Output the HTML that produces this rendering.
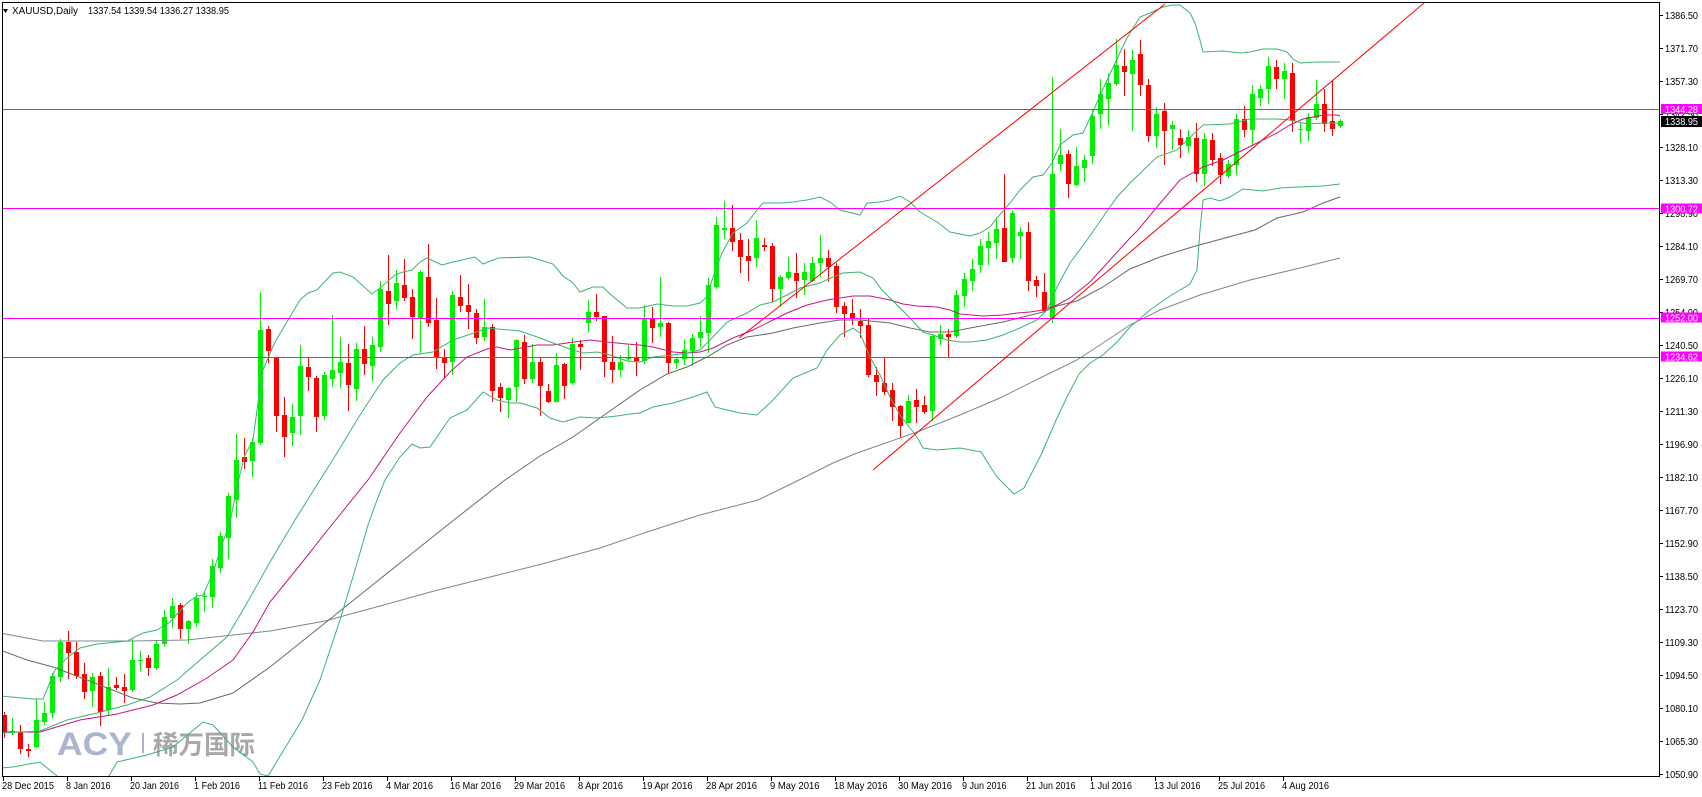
<!DOCTYPE html>
<html><head><meta charset="utf-8"><title>XAUUSD Daily</title>
<style>html,body{margin:0;padding:0;background:#fff;}svg{display:block}</style></head>
<body>
<svg width="1702" height="797" viewBox="0 0 1702 797" xmlns="http://www.w3.org/2000/svg" font-family="'Liberation Sans', sans-serif">
<rect width="1702" height="797" fill="#fff"/>
<defs><clipPath id="c"><rect x="3" y="3" width="1656" height="773"/></clipPath></defs>
<g clip-path="url(#c)">
<!-- watermark -->
<text x="57" y="755" font-family="'Liberation Sans', sans-serif" font-weight="bold" font-size="32" fill="#a9b6ce" textLength="75" lengthAdjust="spacingAndGlyphs">ACY</text>
<rect x="142" y="733" width="2" height="20" fill="#aab3c6"/>
<text x="153" y="754" font-family="'Liberation Sans', 'Noto Sans CJK SC', sans-serif" font-weight="bold" font-size="26" fill="#a8a8a8" textLength="102" lengthAdjust="spacingAndGlyphs">稀万国际</text>

<!-- candles -->
<g shape-rendering="crispEdges">
<path fill="none" stroke="#00ee00" stroke-width="1" d="M12.5 718V735M36.5 699V748M44.5 702V725M52.5 673V718M60.5 639V682M92.5 673V707M108.5 668V715M132.5 639V692M140.5 651V671M156.5 640V670M164.5 610V647M172.5 598V628M188.5 620V644M196.5 593V627M204.5 591V612M212.5 559V608M220.5 532V573M228.5 493V559M236.5 434V518M252.5 438V477M260.5 292V445M292.5 404V446M300.5 345V435M324.5 372V420M332.5 315V387M340.5 337V388M356.5 343V401M372.5 337V381M380.5 281V352M396.5 270V309M420.5 270V353M452.5 291V375M484.5 299V341M508.5 387V418M516.5 339V402M532.5 344V383M556.5 353V402M572.5 338V385M588.5 300V332M620.5 355V377M628.5 345V362M644.5 305V364M660.5 277V337M676.5 357V369M684.5 340V365M692.5 334V366M700.5 316V347M708.5 278V353M716.5 217V289M724.5 201V239M756.5 220V267M780.5 275V307M788.5 257V280M804.5 263V295M812.5 257V282M820.5 235V277M908.5 395V423M932.5 334V421M940.5 325V345M956.5 290V338M964.5 273V307M972.5 259V291M980.5 239V273M988.5 232V265M996.5 217V259M1012.5 210V263M1020.5 227V259M1052.5 77V323M1060.5 129V171M1076.5 147V186M1084.5 155V182M1092.5 110V164M1100.5 79V129M1108.5 73V125M1116.5 39V86M1132.5 50V131M1156.5 107V148M1172.5 121V150M1188.5 130V153M1204.5 133V186M1228.5 160V178M1236.5 114V175M1252.5 85V146M1260.5 85V106M1268.5 57V104M1284.5 63V99M1300.5 123V143M1308.5 113V141M1316.5 80V120M1340.5 119V128"/>
<path fill="none" stroke="#ff0000" stroke-width="1" d="M4.5 712V738M20.5 725V754M28.5 744V757M68.5 631V679M76.5 642V679M84.5 663V699M100.5 672V726M116.5 677V690M124.5 674V703M148.5 655V676M180.5 603V639M244.5 438V469M268.5 326V363M276.5 357V432M284.5 397V457M308.5 357V391M316.5 376V432M348.5 344V411M364.5 326V375M388.5 255V325M404.5 259V301M412.5 289V339M428.5 244V327M436.5 298V369M444.5 349V378M460.5 275V312M468.5 284V329M476.5 309V344M492.5 324V402M500.5 383V412M524.5 335V384M540.5 357V416M548.5 384V403M564.5 363V399M580.5 340V370M596.5 294V321M604.5 316V377M612.5 336V383M636.5 342V376M652.5 307V343M668.5 322V374M732.5 205V251M740.5 233V273M748.5 239V281M764.5 238V251M772.5 243V302M796.5 253V298M828.5 250V282M836.5 263V313M844.5 302V337M852.5 299V325M860.5 309V338M868.5 318V377M876.5 367V396M884.5 358V395M892.5 383V421M900.5 405V438M916.5 389V423M924.5 396V414M948.5 329V357M1004.5 174V262M1028.5 222V291M1036.5 276V297M1044.5 273V313M1068.5 150V198M1124.5 49V96M1140.5 40V96M1148.5 79V142M1164.5 103V165M1180.5 129V158M1196.5 123V182M1212.5 133V166M1220.5 153V184M1244.5 106V137M1276.5 60V89M1292.5 63V132M1324.5 89V132M1332.5 81V136"/>
<path fill="#00ee00" d="M10 731h5V732h-5zM34 720h5V747h-5zM42 713h5V722h-5zM50 676h5V713h-5zM58 642h5V677h-5zM90 677h5V691h-5zM106 687h5V710h-5zM130 660h5V690h-5zM138 660h5V661h-5zM154 644h5V668h-5zM162 617h5V644h-5zM170 606h5V618h-5zM186 621h5V629h-5zM194 598h5V623h-5zM202 596h5V597h-5zM210 566h5V597h-5zM218 536h5V568h-5zM226 496h5V538h-5zM234 460h5V500h-5zM250 442h5V461h-5zM258 330h5V443h-5zM290 417h5V433h-5zM298 366h5V416h-5zM322 375h5V416h-5zM330 370h5V379h-5zM338 362h5V373h-5zM354 349h5V389h-5zM370 345h5V366h-5zM378 289h5V347h-5zM394 283h5V301h-5zM418 272h5V318h-5zM450 295h5V362h-5zM482 327h5V337h-5zM506 388h5V400h-5zM514 340h5V387h-5zM530 362h5V379h-5zM554 365h5V402h-5zM570 344h5V383h-5zM586 312h5V323h-5zM618 362h5V370h-5zM626 357h5V359h-5zM642 318h5V361h-5zM658 323h5V327h-5zM674 359h5V363h-5zM682 350h5V359h-5zM690 338h5V351h-5zM698 332h5V338h-5zM706 285h5V333h-5zM714 225h5V287h-5zM722 228h5V230h-5zM754 238h5V258h-5zM778 277h5V289h-5zM786 272h5V278h-5zM802 272h5V280h-5zM810 263h5V281h-5zM818 258h5V263h-5zM906 401h5V423h-5zM930 336h5V411h-5zM938 334h5V339h-5zM954 295h5V336h-5zM962 279h5V296h-5zM970 269h5V281h-5zM978 246h5V265h-5zM986 241h5V248h-5zM994 229h5V243h-5zM1010 213h5V258h-5zM1018 232h5V236h-5zM1050 174h5V319h-5zM1058 155h5V164h-5zM1074 166h5V185h-5zM1082 160h5V168h-5zM1090 116h5V156h-5zM1098 94h5V114h-5zM1106 83h5V99h-5zM1114 65h5V84h-5zM1130 60h5V74h-5zM1154 114h5V136h-5zM1170 125h5V129h-5zM1186 137h5V146h-5zM1202 139h5V174h-5zM1226 164h5V176h-5zM1234 119h5V165h-5zM1250 94h5V130h-5zM1258 89h5V98h-5zM1266 66h5V89h-5zM1282 71h5V79h-5zM1298 129h5V130h-5zM1306 117h5V131h-5zM1314 104h5V118h-5zM1338 121h5V126h-5z"/>
<path fill="#ff0000" d="M2 715h5V733h-5zM18 732h5V749h-5zM26 749h5V751h-5zM66 642h5V653h-5zM74 652h5V676h-5zM82 674h5V692h-5zM98 676h5V712h-5zM114 685h5V688h-5zM122 687h5V691h-5zM146 658h5V668h-5zM178 605h5V629h-5zM242 457h5V462h-5zM266 329h5V351h-5zM274 358h5V416h-5zM282 415h5V437h-5zM306 367h5V377h-5zM314 378h5V417h-5zM346 363h5V385h-5zM362 349h5V364h-5zM386 291h5V304h-5zM402 285h5V298h-5zM410 297h5V317h-5zM426 277h5V323h-5zM434 320h5V357h-5zM442 357h5V363h-5zM458 297h5V306h-5zM466 305h5V312h-5zM474 313h5V338h-5zM490 327h5V391h-5zM498 387h5V398h-5zM522 342h5V379h-5zM538 362h5V386h-5zM546 391h5V402h-5zM562 364h5V386h-5zM578 344h5V347h-5zM594 312h5V317h-5zM602 316h5V362h-5zM610 362h5V370h-5zM634 358h5V361h-5zM650 318h5V328h-5zM666 323h5V363h-5zM730 228h5V242h-5zM738 240h5V257h-5zM746 256h5V261h-5zM762 245h5V247h-5zM770 246h5V289h-5zM794 273h5V281h-5zM826 258h5V267h-5zM834 266h5V307h-5zM842 306h5V314h-5zM850 313h5V319h-5zM858 321h5V326h-5zM866 325h5V375h-5zM874 375h5V382h-5zM882 383h5V392h-5zM890 390h5V407h-5zM898 406h5V426h-5zM914 400h5V407h-5zM922 405h5V412h-5zM946 334h5V337h-5zM1002 228h5V262h-5zM1026 232h5V281h-5zM1034 280h5V286h-5zM1042 292h5V311h-5zM1066 154h5V184h-5zM1122 66h5V72h-5zM1138 54h5V85h-5zM1146 85h5V136h-5zM1162 111h5V131h-5zM1178 138h5V145h-5zM1194 138h5V174h-5zM1210 140h5V160h-5zM1218 158h5V175h-5zM1242 119h5V130h-5zM1274 67h5V79h-5zM1290 73h5V121h-5zM1322 104h5V124h-5zM1330 121h5V129h-5z"/>
</g>

<!-- indicators -->
<g fill="none" stroke-width="1">
<polyline stroke="#778899" points="0,633 43,641 133,641 187,640 270,631 325,621 380,606 434,591 490,577 542,564 600,548 650,531 700,515 758,500 793,483 833,463 857,453 883,444 917,432 960,415 1000,398 1040,378 1077,360 1103,343 1130,325 1160,310 1200,295 1250,280 1300,268 1340,258"/>
<polyline stroke="#696969" points="0,650 27,660 53,667 87,680 133,698 157,703 180,704 200,703 233,693 270,667 300,643 350,603 400,563 450,523 505,480 540,456 573,437 607,413 640,390 667,374 687,367 707,357 727,345 747,337 773,333 793,328 820,323 840,320 860,320 870,321 890,323 910,328 930,332 950,332 970,328 1003,322 1023,317 1043,312 1057,306 1077,301 1103,287 1130,269 1160,257 1192,247 1225,238 1255,230 1277,218 1303,212 1323,203 1340,197"/>
<polyline stroke="#c71585" points="0,732 40,732 80,720 117,714 153,705 177,695 207,678 233,660 253,632 270,602 300,565 330,527 368,480 400,433 427,397 450,372 467,357 487,349 497,347 510,350 537,345 553,345 567,343 590,340 607,342 627,344 640,345 653,347 673,352 687,353 700,352 713,348 733,338 753,330 773,320 787,313 807,305 827,300 840,298 853,296 870,296 890,300 903,304 917,306 937,307 950,310 960,314 983,316 1003,315 1017,313 1030,312 1043,310 1057,305 1070,298 1090,282 1110,260 1130,238 1138,230 1157,207 1180,180 1203,167 1223,160 1243,150 1257,143 1277,133 1290,125 1303,119 1323,115 1337,115 1340,116"/>
<polyline stroke="#3cb371" points="0,696 33,699 43,699 55,670 67,658 80,648 97,644 127,641 143,633 157,630 170,622 187,603 197,596 203,595 213,573 220,550 230,522 238,482 245,455 253,440 262,372 275,342 300,300 308,293 317,290 333,273 340,272 353,277 372,294 380,288 395,275 403,272 412,270 420,262 427,258 442,265 453,262 475,257 483,264 498,258 530,257 540,260 553,264 563,276 573,283 580,292 593,287 603,287 610,294 627,308 640,308 657,304 673,306 687,306 700,303 707,297 713,277 722,253 733,233 747,223 757,210 763,203 780,203 793,202 807,200 820,197 830,202 840,210 860,215 867,203 880,202 890,200 900,196 910,202 920,212 937,222 950,232 970,236 980,233 990,227 997,218 1010,203 1020,190 1033,177 1043,175 1052,163 1060,145 1073,135 1083,133 1092,114 1103,89 1117,59 1127,38 1140,17 1150,13 1163,7 1172,5 1180,5 1190,13 1195,23 1200,40 1203,52 1223,51 1240,53 1250,52 1263,49 1277,49 1287,52 1293,59 1300,63 1317,62 1340,62"/>
<polyline stroke="#3cb371" points="0,733 40,731 67,720 97,713 127,705 150,697 177,680 200,660 227,637 247,603 270,562 295,520 320,480 337,453 360,415 383,380 400,363 413,355 433,352 453,340 477,332 487,328 520,331 540,338 553,343 570,349 583,353 597,352 610,355 627,361 640,362 653,357 673,355 687,353 700,350 713,337 727,322 747,313 760,305 773,302 787,295 800,288 820,283 833,277 843,273 860,272 873,278 882,290 910,318 923,332 933,335 947,340 960,342 970,342 987,340 1003,335 1020,328 1037,320 1047,310 1057,287 1070,263 1087,240 1103,217 1117,197 1130,183 1157,157 1177,150 1203,125 1230,124 1250,119 1277,119 1290,120 1307,124 1323,123 1340,123"/>
<polyline stroke="#3cb371" points="0,768 13,767 40,762 57,776 70,790 95,790 109,776 117,762 147,755 173,747 203,722 213,725 233,747 253,762 260,774 268,776 285,748 302,720 320,680 340,620 355,570 368,525 377,500 385,480 400,457 412,444 420,448 430,447 450,418 467,410 483,392 497,400 510,403 520,403 537,408 550,418 563,422 580,417 597,418 617,416 630,414 640,413 653,407 673,403 693,397 707,392 715,407 727,410 740,413 757,415 773,400 793,378 817,368 827,350 840,335 853,328 860,333 870,357 880,375 890,397 900,415 910,428 917,437 923,448 937,450 960,448 981,452 997,477 1014,494 1024,488 1041,455 1057,418 1068,395 1079,374 1090,363 1103,355 1117,342 1130,327 1150,310 1170,296 1190,284 1197,270 1200,230 1203,200 1210,198 1220,201 1230,197 1243,189 1263,191 1280,188 1297,187 1323,186 1340,184"/>
</g>

<!-- horizontal lines -->
<g stroke="#ff00ff" stroke-width="1" shape-rendering="crispEdges">
<line x1="3" y1="109.5" x2="1659" y2="109.5"/>
<line x1="3" y1="208.5" x2="1659" y2="208.5"/>
<line x1="3" y1="318.5" x2="1659" y2="318.5"/>
<line x1="3" y1="357.5" x2="1659" y2="357.5"/>
</g>

<!-- trend lines -->
<g stroke="#ff0000" stroke-width="1">
<line x1="739" y1="338" x2="1165" y2="4"/>
<line x1="873" y1="470" x2="1424" y2="3"/>
</g>
</g>

<!-- frame -->
<rect x="2.5" y="2.5" width="1657" height="774" fill="none" stroke="#000" stroke-width="1" shape-rendering="crispEdges"/>

<!-- title -->
<polygon points="3,9 8,9 5.5,13" fill="#000"/>
<text x="12" y="14" font-size="10" fill="#000" textLength="66" lengthAdjust="spacingAndGlyphs">XAUUSD,Daily</text>
<text x="88" y="14" font-size="10" fill="#000" textLength="141" lengthAdjust="spacingAndGlyphs">1337.54 1339.54 1336.27 1338.95</text>

<!-- y axis ticks -->
<path stroke="#000" stroke-width="1" shape-rendering="crispEdges" d="M1659 15.5h4M1659 48.5h4M1659 81.5h4M1659 114.5h4M1659 147.5h4M1659 180.5h4M1659 213.5h4M1659 246.5h4M1659 279.5h4M1659 312.5h4M1659 345.5h4M1659 378.5h4M1659 411.5h4M1659 444.5h4M1659 477.5h4M1659 510.5h4M1659 543.5h4M1659 576.5h4M1659 609.5h4M1659 642.5h4M1659 675.5h4M1659 708.5h4M1659 741.5h4M1659 774.5h4"/>
<g font-size="10" fill="#000">
<text x="1665" y="19" textLength="33" lengthAdjust="spacingAndGlyphs">1386.50</text>
<text x="1665" y="52" textLength="33" lengthAdjust="spacingAndGlyphs">1371.70</text>
<text x="1665" y="85" textLength="33" lengthAdjust="spacingAndGlyphs">1357.30</text>
<text x="1665" y="118" textLength="33" lengthAdjust="spacingAndGlyphs">1342.50</text>
<text x="1665" y="151" textLength="33" lengthAdjust="spacingAndGlyphs">1328.10</text>
<text x="1665" y="184" textLength="33" lengthAdjust="spacingAndGlyphs">1313.30</text>
<text x="1665" y="217" textLength="33" lengthAdjust="spacingAndGlyphs">1298.90</text>
<text x="1665" y="250" textLength="33" lengthAdjust="spacingAndGlyphs">1284.10</text>
<text x="1665" y="283" textLength="33" lengthAdjust="spacingAndGlyphs">1269.70</text>
<text x="1665" y="316" textLength="33" lengthAdjust="spacingAndGlyphs">1254.90</text>
<text x="1665" y="349" textLength="33" lengthAdjust="spacingAndGlyphs">1240.50</text>
<text x="1665" y="382" textLength="33" lengthAdjust="spacingAndGlyphs">1226.10</text>
<text x="1665" y="415" textLength="33" lengthAdjust="spacingAndGlyphs">1211.30</text>
<text x="1665" y="448" textLength="33" lengthAdjust="spacingAndGlyphs">1196.90</text>
<text x="1665" y="481" textLength="33" lengthAdjust="spacingAndGlyphs">1182.10</text>
<text x="1665" y="514" textLength="33" lengthAdjust="spacingAndGlyphs">1167.70</text>
<text x="1665" y="547" textLength="33" lengthAdjust="spacingAndGlyphs">1152.90</text>
<text x="1665" y="580" textLength="33" lengthAdjust="spacingAndGlyphs">1138.50</text>
<text x="1665" y="613" textLength="33" lengthAdjust="spacingAndGlyphs">1123.70</text>
<text x="1665" y="646" textLength="33" lengthAdjust="spacingAndGlyphs">1109.30</text>
<text x="1665" y="679" textLength="33" lengthAdjust="spacingAndGlyphs">1094.50</text>
<text x="1665" y="712" textLength="33" lengthAdjust="spacingAndGlyphs">1080.10</text>
<text x="1665" y="745" textLength="33" lengthAdjust="spacingAndGlyphs">1065.30</text>
<text x="1665" y="778" textLength="33" lengthAdjust="spacingAndGlyphs">1050.90</text>
</g>

<!-- price boxes -->
<g shape-rendering="crispEdges">
<rect x="1661" y="104" width="41" height="10" fill="#ff00ff"/>
<rect x="1661" y="116" width="41" height="11" fill="#000"/>
<rect x="1661" y="203.5" width="41" height="10" fill="#ff00ff"/>
<rect x="1661" y="312.5" width="41" height="10" fill="#ff00ff"/>
<rect x="1661" y="351.5" width="41" height="10" fill="#ff00ff"/>
</g>
<g font-size="10" fill="#fff">
<text x="1665" y="112.8" textLength="33" lengthAdjust="spacingAndGlyphs">1344.28</text>
<text x="1665" y="125.2" textLength="33" lengthAdjust="spacingAndGlyphs">1338.95</text>
<text x="1665" y="212.3" textLength="33" lengthAdjust="spacingAndGlyphs">1300.72</text>
<text x="1665" y="321.3" textLength="33" lengthAdjust="spacingAndGlyphs">1252.00</text>
<text x="1665" y="360.3" textLength="33" lengthAdjust="spacingAndGlyphs">1234.62</text>
</g>

<!-- x axis ticks -->
<path stroke="#000" stroke-width="1" shape-rendering="crispEdges" d="M3.5 776v5M67.5 776v5M131.5 776v5M195.5 776v5M259.5 776v5M323.5 776v5M387.5 776v5M451.5 776v5M515.5 776v5M579.5 776v5M643.5 776v5M707.5 776v5M771.5 776v5M835.5 776v5M899.5 776v5M963.5 776v5M1027.5 776v5M1091.5 776v5M1155.5 776v5M1219.5 776v5M1283.5 776v5"/>
<g font-size="10.5" fill="#000">
<text x="2" y="789" textLength="52" lengthAdjust="spacingAndGlyphs">28 Dec 2015</text>
<text x="66" y="789" textLength="44.5" lengthAdjust="spacingAndGlyphs">8 Jan 2016</text>
<text x="130" y="789" textLength="49" lengthAdjust="spacingAndGlyphs">20 Jan 2016</text>
<text x="194" y="789" textLength="46" lengthAdjust="spacingAndGlyphs">1 Feb 2016</text>
<text x="258" y="789" textLength="50" lengthAdjust="spacingAndGlyphs">11 Feb 2016</text>
<text x="322" y="789" textLength="50.5" lengthAdjust="spacingAndGlyphs">23 Feb 2016</text>
<text x="386" y="789" textLength="47" lengthAdjust="spacingAndGlyphs">4 Mar 2016</text>
<text x="450" y="789" textLength="51" lengthAdjust="spacingAndGlyphs">16 Mar 2016</text>
<text x="514" y="789" textLength="51" lengthAdjust="spacingAndGlyphs">29 Mar 2016</text>
<text x="578" y="789" textLength="45" lengthAdjust="spacingAndGlyphs">8 Apr 2016</text>
<text x="642" y="789" textLength="50.5" lengthAdjust="spacingAndGlyphs">19 Apr 2016</text>
<text x="706" y="789" textLength="51" lengthAdjust="spacingAndGlyphs">28 Apr 2016</text>
<text x="770" y="789" textLength="49.5" lengthAdjust="spacingAndGlyphs">9 May 2016</text>
<text x="834" y="789" textLength="53.5" lengthAdjust="spacingAndGlyphs">18 May 2016</text>
<text x="898" y="789" textLength="54" lengthAdjust="spacingAndGlyphs">30 May 2016</text>
<text x="962" y="789" textLength="44.5" lengthAdjust="spacingAndGlyphs">9 Jun 2016</text>
<text x="1026" y="789" textLength="49.5" lengthAdjust="spacingAndGlyphs">21 Jun 2016</text>
<text x="1090" y="789" textLength="42" lengthAdjust="spacingAndGlyphs">1 Jul 2016</text>
<text x="1154" y="789" textLength="46.5" lengthAdjust="spacingAndGlyphs">13 Jul 2016</text>
<text x="1218" y="789" textLength="47" lengthAdjust="spacingAndGlyphs">25 Jul 2016</text>
<text x="1282" y="789" textLength="47" lengthAdjust="spacingAndGlyphs">4 Aug 2016</text>
</g>
</svg>
</body></html>
